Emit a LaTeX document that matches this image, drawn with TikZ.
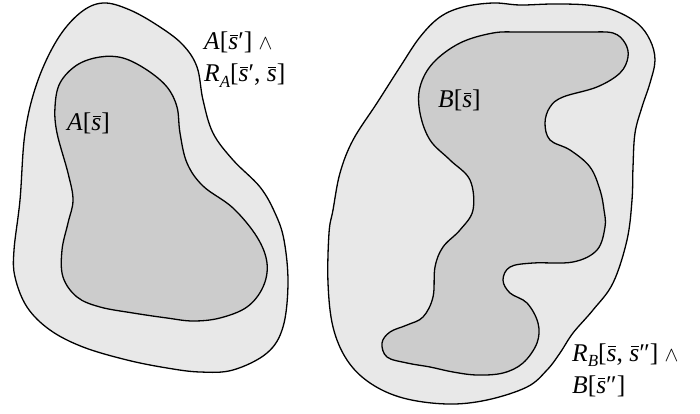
\documentclass[tikz,border=0pt]{standalone}
\usepackage{fontspec}
\setmainfont{Liberation Serif}
\newcommand{\sbar}{\leavevmode\rlap{\hspace{0.06em}\rule[0.55em]{0.3em}{0.04em}}\textit{s}}
\newcommand{\lbl}[1]{\textit{#1}}
\newcommand{\lsub}[1]{\raisebox{-0.22em}{\fontsize{17}{17}\selectfont\textit{#1}}}
\newcommand{\andsym}{{\fontsize{21}{21}\selectfont$\wedge$}}
\begin{document}
\begin{tikzpicture}[x=1pt,y=-1pt,
  outerreg/.style={draw=black,line width=1.3pt,fill=black!9},
  innerreg/.style={draw=black,line width=1.3pt,fill=black!20},
  lab/.style={font=\fontsize{25.5}{32}\selectfont,inner sep=0pt,align=left}]
\useasboundingbox (0,0) rectangle (700,414);
% left outer
\draw[outerreg] plot[smooth cycle,tension=0.6] coordinates {
(14,250) (20,200) (25,133) (37,83) (57,40) (80,13) (103,3) (130,10) (160,27)
(183,45) (197,67) (203,100) (213,133) (233,160) (260,187) (275,213) (284,240)
(288,283) (283,327) (267,353) (233,370) (200,372) (167,368) (127,360) (83,347)
(50,330) (27,307) (15,277)};
% left inner
\draw[innerreg] plot[smooth cycle,tension=0.6] coordinates {
(62,250) (68,223) (73,200) (68,173) (57,133) (55,107) (60,83) (77,65) (100,57)
(123,58) (147,70) (167,87) (177,107) (180,133) (187,163) (203,186) (233,208)
(257,237) (267,263) (263,287) (247,307) (220,318) (193,321) (167,318) (133,313)
(100,307) (77,297) (63,277)};
% right outer
\draw[outerreg] plot[smooth cycle,tension=0.6] coordinates {
(333,210) (340,173) (353,140) (377,103) (400,67) (420,37) (440,17) (463,7)
(493,3) (520,5) (553,4) (587,5) (613,10) (637,23) (650,40) (655,60) (650,83)
(642,107) (635,133) (633,167) (632,200) (627,240) (613,283) (593,310) (573,333)
(560,353) (547,370) (527,387) (487,400) (447,404) (403,398) (370,383) (347,360)
(333,327) (328,283) (329,233)};
% right inner
\draw[innerreg] plot[smooth cycle,tension=0.6] coordinates {
(473,210) (470,180) (450,160) (430,140) (420,113) (420,87) (433,63) (460,43)
(493,33) (520,32) (553,32) (587,32) (613,33) (625,43) (628,57) (620,73) (597,87)
(563,97) (550,107) (545,123) (550,140) (570,150) (590,167) (600,190) (604,210)
(605,227) (597,250) (573,262) (533,263) (510,267) (503,280) (510,293) (527,303)
(538,323) (537,343) (523,363) (503,373) (477,375) (453,372) (430,367) (407,363)
(387,357) (382,343) (390,332) (407,325) (423,317) (433,297) (435,267) (443,247)
(460,230)};
% labels
\node[lab,anchor=base west] (la) at (67,131) {\lbl{A}[\sbar]};
\node[lab,anchor=base west] (lb) at (438,108) {\lbl{B}[\sbar]};
\node[lab,anchor=base west] (lc) at (204,82) {\lbl{A}[\sbar′] \andsym\\\lbl{R}\lsub{A}[\sbar′, \sbar]};
\node[lab,anchor=base west] (ld) at (572,393) {\lbl{R}\lsub{B}[\sbar, \sbar″] \andsym\\\lbl{B}[\sbar″]};
\end{tikzpicture}
\end{document}
